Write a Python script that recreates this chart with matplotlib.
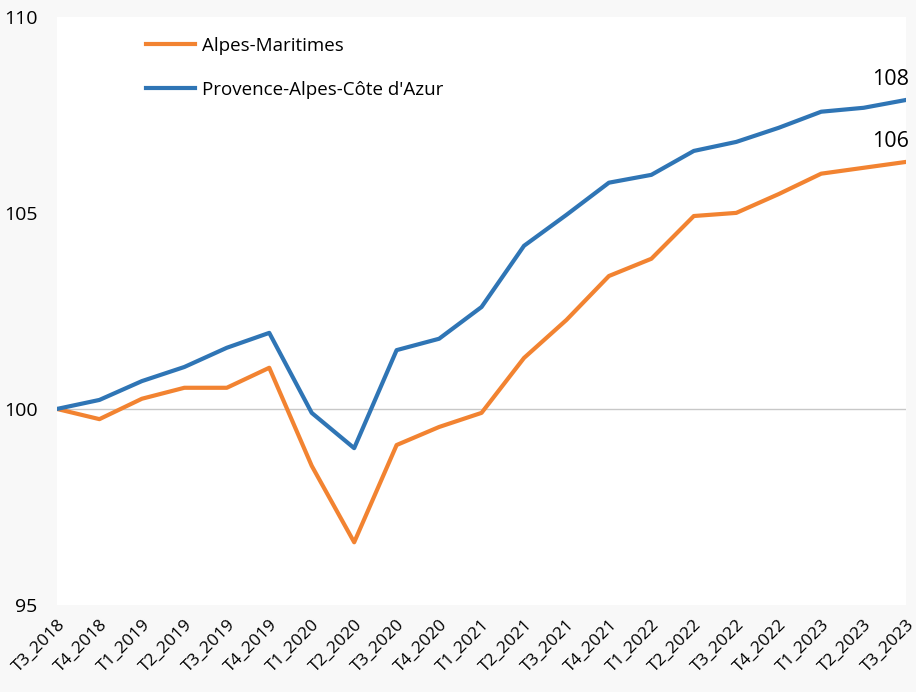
import matplotlib.pyplot as plt

trimestres = ["T3_2018", "T4_2018", "T1_2019", "T2_2019", "T3_2019", "T4_2019",
              "T1_2020", "T2_2020", "T3_2020", "T4_2020", "T1_2021", "T2_2021",
              "T3_2021", "T4_2021", "T1_2022", "T2_2022", "T3_2022", "T4_2022",
              "T1_2023", "T2_2023", "T3_2023"]
alpes_maritimes = [100.0, 99.74, 100.26, 100.54, 100.54, 101.05, 98.55, 96.6, 99.08,
                   99.54, 99.9, 101.3, 102.27, 103.39, 103.83, 104.92, 105.0, 105.48,
                   106.0, 106.15, 106.3]
paca = [100.0, 100.23, 100.71, 101.07, 101.56, 101.94, 99.9, 99.0, 101.5, 101.79,
        102.6, 104.16, 104.95, 105.77, 105.97, 106.58, 106.81, 107.17, 107.58,
        107.68, 107.88]

plt.rcParams['font.family'] = ['Open Sans', 'DejaVu Sans']

fig = plt.figure(figsize=(9.16, 6.92), dpi=100, facecolor='#f8f8f8')
ax = fig.add_axes([0.0622, 0.1257, 0.927, 0.85])
ax.set_facecolor('white')

x = list(range(len(trimestres)))
ax.axhline(100, color='#c8c8c8', linewidth=1, zorder=1)
ax.plot(x, alpes_maritimes, color='#f28331', linewidth=3, label='Alpes-Maritimes', zorder=3)
ax.plot(x, paca, color='#2f75b5', linewidth=3, label="Provence-Alpes-Côte d'Azur", zorder=3)

# étiquettes de fin de série
ax.annotate(f"{round(paca[-1])}", (x[-1], paca[-1]), xytext=(2, 7), textcoords='offset points',
            ha='right', va='bottom', fontsize=15.5)
ax.annotate(f"{round(alpes_maritimes[-1])}", (x[-1], alpes_maritimes[-1]), xytext=(2, 7),
            textcoords='offset points', ha='right', va='bottom', fontsize=15.5)

ax.set_xlim(0, len(trimestres) - 1)
ax.set_ylim(95, 110)
ax.set_yticks([95, 100, 105, 110])
ax.set_xticks(x)
ax.set_xticklabels(trimestres, rotation=45, ha='right', rotation_mode='anchor', fontsize=12.5)
ax.tick_params(axis='y', labelsize=14, length=0, pad=14)
ax.tick_params(axis='x', length=0, pad=8)
for s in ax.spines.values():
    s.set_visible(False)

ax.legend(loc='upper left', bbox_to_anchor=(0.085, 0.995), frameon=False, fontsize=13.5,
          labelspacing=1.4, handlelength=2.6, handletextpad=0.4)

fig.savefig('out.png', dpi=100, facecolor=fig.get_facecolor())
